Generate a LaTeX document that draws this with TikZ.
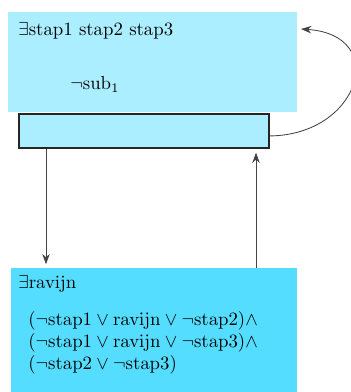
\documentclass[tikz,border=0pt]{standalone}
\usetikzlibrary{arrows.meta}
\definecolor{paleCyan}{HTML}{AAEEFF}
\definecolor{deepCyan}{HTML}{55DDFF}
\definecolor{edgeGray}{HTML}{444444}
\begin{document}
\begin{tikzpicture}[x=0.532pt,y=-0.532pt,
  panel/.style={draw=none,inner sep=0pt,anchor=north west},
  bar/.style={draw=black!85,line width=1pt,fill=paleCyan,inner sep=0pt,anchor=north west},
  txt/.style={inner sep=0pt,anchor=base west,font=\normalsize},
  link/.style={draw=edgeGray,line width=0.45pt,-{Stealth[length=5.5pt,width=4pt]}}]
\useasboundingbox (0,0) rectangle (351,392);
% panels
\node[panel,fill=paleCyan,minimum width=289*0.532pt,minimum height=100*0.532pt] (top) at (8,12) {};
\node[bar,minimum width=250*0.532pt,minimum height=34*0.532pt] (mid) at (18,113) {};
\node[panel,fill=deepCyan,minimum width=286*0.532pt,minimum height=130*0.532pt] (bot) at (11,268) {};
% texts
\node[txt] (t1) at (18,36) {$\exists$stap1 stap2 stap3};
\node[txt] (t2) at (70,90) {$\neg\mathrm{sub}_1$};
\node[txt] (t3) at (18,288) {$\exists$ravijn};
\node[txt] (t4) at (28,325) {$(\neg\mathrm{stap1}\vee\mathrm{ravijn}\vee\neg\mathrm{stap2})\wedge$};
\node[txt] (t5) at (28,347) {$(\neg\mathrm{stap1}\vee\mathrm{ravijn}\vee\neg\mathrm{stap3})\wedge$};
\node[txt] (t6) at (28,369) {$(\neg\mathrm{stap2}\vee\neg\mathrm{stap3})$};
% connectors
\coordinate (lx) at (46,0);
\coordinate (rx) at (256,0);
\coordinate (loopin) at (301,29);
\draw[link,shorten >=2pt] (mid.south -| lx) -- (bot.north -| lx);
\draw[link,shorten >=2pt] (bot.north -| rx) -- (mid.south -| rx);
\draw[link] ([yshift=-2.66pt]mid.east) .. controls (360,135) and (390,35) .. (loopin);
\end{tikzpicture}
\end{document}
